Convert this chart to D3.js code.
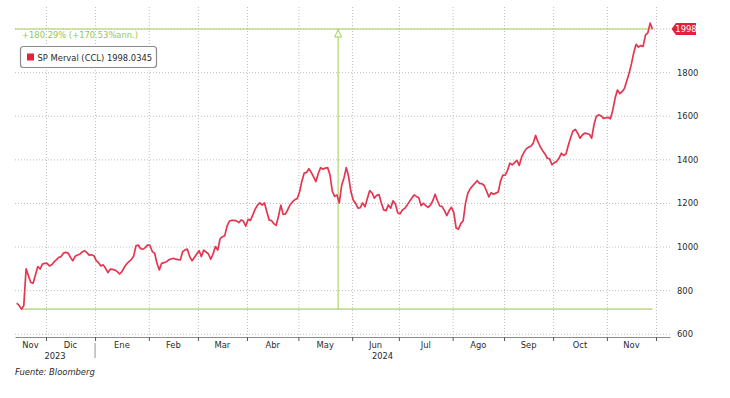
<!DOCTYPE html>
<html><head><meta charset="utf-8">
<script src="https://cdn.jsdelivr.net/npm/d3@7"></script>
<style>
body{margin:0;background:#fff;}
svg{display:block;font-family:"DejaVu Sans Condensed","DejaVu Sans",sans-serif;}
</style></head><body>
<svg id="c" width="730" height="398"></svg>
<script>
// ---- data (weekday closes, from 2023-11-14) ----
const startDate = "2023-11-14";
const values = [
740,730,712.84,728,898,866,835,832,870,908,897,920,923,
923,911,916,930,940,951,954,970,973,970,
950,935,955,961,965,975,981,972,961,962,
958,935,926,911,916,900,880,896,895,892,
885,874,885,905,920,931,940,955,1003,1007,
990,988,995,1007,1005,977,969,923,893,923,
926,930,939,943,946,942,940,939,977,985,
988,954,935,950,966,981,954,984,975,966,
942,966,1000,984,1035,1045,1050,1095,1117,1120,
1120,1118,1110,1122,1116,1094,1125,1120,1145,1171,
1190,1201,1190,1200,1160,1122,1119,1105,1097,1140,
1190,1147,1150,1170,1192,1205,1215,1220,1250,1300,
1337,1340,1357,1340,1320,1298,1335,1362,1355,1360,
1362,1330,1255,1230,1237,1200,1280,1315,1362,1320,
1250,1212,1198,1176,1178,1200,1182,1220,1256,1246,
1222,1235,1238,1200,1168,1165,1191,1176,1210,1195,
1155,1150,1168,1175,1190,1206,1222,1237,1230,1224,
1188,1198,1188,1180,1190,1210,1240,1210,1186,1183,
1165,1142,1165,1180,1156,1085,1080,1105,1118,1198,
1245,1265,1278,1290,1302,1290,1288,1280,1255,1228,
1247,1240,1245,1250,1300,1328,1328,1350,1383,1375,
1385,1395,1372,1410,1432,1448,1456,1460,1475,1510,
1480,1458,1440,1425,1405,1402,1375,1385,1390,1405,
1428,1418,1425,1465,1500,1530,1537,1520,1497,1512,
1520,1518,1515,1497,1560,1598,1604,1600,1588,1590,
1593,1586,1625,1680,1718,1702,1710,1725,1760,1795,
1838,1890,1928,1915,1922,1918,1970,1980,2025,1998.0345
];
const baseDate = "2023-11-16";
const seriesName = "SP Merval (CCL)";
const lastLabel = "1998.0345";
const tagLabel = "1998";
const changeLabel = "+180.29% (+170.53%ann.)";
const yTicks = [600, 800, 1000, 1200, 1400, 1600, 1800, 2000];
const yTickLabels = ["600","800","1000","1200","1400","1600","1800",""];
const monthStarts = ["2023-12-01","2024-01-01","2024-02-01","2024-03-01","2024-04-01","2024-05-01","2024-06-01","2024-07-01","2024-08-01","2024-09-01","2024-10-01","2024-11-01","2024-12-01"];
const monthLabels = ["Nov","Dic","Ene","Feb","Mar","Abr","May","Jun","Jul","Ago","Sep","Oct","Nov"];
const yearLabels = ["2023","2024"];
const sourceText = "Fuente: Bloomberg";

// ---- helpers ----
const parse = d3.utcParse("%Y-%m-%d");
const start = parse(startDate);
const isWeekday = d => d.getUTCDay() !== 0 && d.getUTCDay() !== 6;
const wdIndex = d => d3.utcDay.range(start, d).filter(isWeekday).length;

const N = values.length;
const L = 15, R = 670, T = 7, B = 337;
const FS = 9.3;
const x = d3.scaleLinear().domain([-0.75, N - 1 + 7.5]).range([L, R]);
const y = d3.scaleLinear().domain([585, 2099]).range([B, T]);

const svg = d3.select("#c");
svg.append("rect").attr("width",730).attr("height",398).attr("fill","#fff");

// gridlines horizontal
svg.append("g").attr("transform",`translate(${L},0)`)
  .call(d3.axisLeft(y).tickValues(yTicks).tickSize(-(R-L)).tickFormat(""))
  .call(g=>g.select(".domain").remove())
  .call(g=>g.selectAll("line").attr("stroke","#bdbdbd").attr("stroke-dasharray","1,2"));

// month boundaries
const bIdx = monthStarts.map(s => wdIndex(parse(s)) - 0.5);
svg.append("g").attr("transform",`translate(0,${T})`)
  .call(d3.axisBottom(x).tickValues(bIdx).tickSize(B-T).tickFormat(""))
  .call(g=>g.select(".domain").remove())
  .call(g=>g.selectAll("line").attr("stroke","#bdbdbd").attr("stroke-dasharray","1,2"));

// bottom axis
const xa = svg.append("g").attr("transform",`translate(0,${B})`)
  .call(d3.axisBottom(x).tickValues(bIdx).tickSize(4).tickSizeOuter(0).tickFormat(""));
xa.select(".domain").attr("stroke","#8c8c8c");
xa.selectAll("line").attr("stroke","#555");

// month labels
const edges = [x.invert(L), ...bIdx];
monthLabels.forEach((m,i)=>{
  svg.append("text").attr("x", x((edges[i]+edges[i+1])/2)).attr("y",348)
    .attr("text-anchor","middle").attr("font-size",FS).attr("fill","#2a2a2a").text(m);
});
// year labels
const janIdx = bIdx[1];
const yearSpans = [[x.invert(L), janIdx],[janIdx, x.invert(R)]];
yearLabels.forEach((yl,i)=>{
  svg.append("text").attr("x", x((yearSpans[i][0]+yearSpans[i][1])/2)).attr("y",359)
    .attr("text-anchor","middle").attr("font-size",FS).attr("fill","#2a2a2a").text(yl);
});
svg.append("line").attr("x1",x(janIdx)).attr("x2",x(janIdx)).attr("y1",343).attr("y2",358)
  .attr("stroke","#777").attr("stroke-width",0.8);

// y labels
svg.append("g").attr("transform",`translate(${R+6},0)`)
  .call(d3.axisRight(y).tickValues(yTicks).tickSize(0).tickPadding(1).tickFormat((d,i)=>yTickLabels[i]))
  .call(g=>g.select(".domain").remove())
  .call(g=>g.selectAll("text").attr("font-size",FS).attr("fill","#2a2a2a")
       .attr("font-family",'"DejaVu Sans Condensed","DejaVu Sans",sans-serif'));

// change annotation
const baseIdx = wdIndex(parse(baseDate));
const endIdx = N - 1;
const baseVal = values[baseIdx], lastVal = values[endIdx];
const midIdx = Math.ceil((baseIdx + endIdx)/2) + 0.5;
svg.append("line").attr("x1",x(baseIdx)).attr("x2",x(endIdx)).attr("y1",y(baseVal)).attr("y2",y(baseVal))
  .attr("stroke","#c3dc95").attr("stroke-width",1.6);
svg.append("line").attr("x1",L).attr("x2",x(endIdx)).attr("y1",y(lastVal)).attr("y2",y(lastVal))
  .attr("stroke","#a9d05a").attr("stroke-width",1.2);
svg.append("line").attr("x1",x(midIdx)).attr("x2",x(midIdx)).attr("y1",y(baseVal)).attr("y2",y(lastVal))
  .attr("stroke","#a3cf4e").attr("stroke-width",1);
const ax = x(midIdx), ay = y(lastVal);
svg.append("path").attr("d",`M${ax},${ay+1}L${ax-3.5},${ay+8}L${ax+3.5},${ay+8}Z`)
  .attr("fill","#fff").attr("stroke","#a3cf4e").attr("stroke-width",1);
svg.append("text").attr("x",22).attr("y",38).attr("font-size",FS).attr("fill","#93c84a").text(changeLabel);

// series line
svg.append("path").datum(values)
  .attr("d", d3.line().x((d,i)=>x(i)).y(d=>y(d)))
  .attr("fill","none").attr("stroke","#e43650").attr("stroke-width",1.7).attr("stroke-linejoin","round");

// legend
svg.append("rect").attr("x",20.5).attr("y",46.5).attr("width",136).attr("height",21).attr("rx",3)
  .attr("fill","#fff").attr("stroke","#8a8a8a").attr("stroke-width",1.2);
svg.append("rect").attr("x",27).attr("y",53.5).attr("width",7).attr("height",7).attr("fill","#e8203a");
svg.append("text").attr("x",37.5).attr("y",60.5).attr("font-size",FS).attr("fill","#2a2a2a")
  .text(seriesName + " " + lastLabel);

// last value tag
const ty = y(lastVal);
svg.append("path").attr("d",`M${R+1.5},${ty}L${R+6},${ty-6}L${R+26},${ty-6}L${R+26},${ty+6}L${R+6},${ty+6}Z`)
  .attr("fill","#e0203c");
svg.append("text").attr("x",R+16).attr("y",ty).attr("dy","0.35em").attr("text-anchor","middle")
  .attr("font-size",FS).attr("fill","#fff").text(tagLabel);

// source
svg.append("text").attr("x",15).attr("y",375).attr("font-size",FS).attr("font-style","italic")
  .attr("fill","#2a2a2a").text(sourceText);
</script>
</body></html>
